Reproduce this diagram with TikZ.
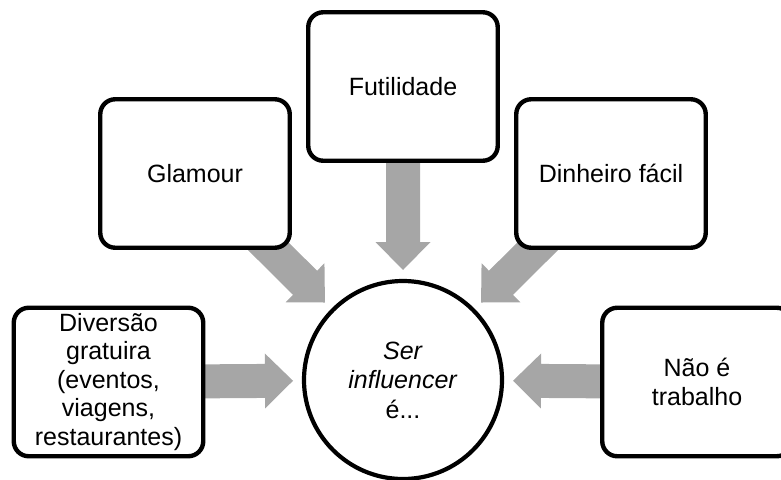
\documentclass[tikz,border=0pt]{standalone}
\usepackage{fontspec}
\setmainfont{Liberation Sans}
\usetikzlibrary{calc,backgrounds}
\definecolor{arrowgray}{RGB}{166,166,166}
\tikzset{
  box/.style={draw=black, line width=4.4pt, rounded corners=15pt, fill=white,
    minimum width=189.5pt, minimum height=148.5pt, inner sep=2pt, align=center,
    font=\fontsize{25}{28.5}\selectfont},
  hub/.style={circle, draw=black, line width=4.2pt, fill=white, minimum size=198pt,
    inner sep=0pt, align=center, font=\fontsize{25}{29.5}\selectfont},
  blockfill/.style={fill=arrowgray}
}
\newcommand\blockarrow[1]{%
  \coordinate (t#1) at ($(hub.center)!110pt!(#1.center)$);
  \coordinate (b#1) at ($(t#1)!28pt!(#1.center)$);
  \fill[blockfill] ($(#1.center)!17pt!90:(t#1)$) -- ($(b#1)!17pt!90:(t#1)$)
    -- ($(b#1)!27.5pt!90:(t#1)$) -- (t#1) -- ($(b#1)!27.5pt!-90:(t#1)$)
    -- ($(b#1)!17pt!-90:(t#1)$) -- ($(#1.center)!17pt!-90:(t#1)$) -- cycle;}
\begin{document}
\begin{tikzpicture}[x=1pt,y=-1pt]
\useasboundingbox (0,0) rectangle (781,479);
\clip (0,0) rectangle (781,479);
\node[hub] (hub) at (403,380) {\textit{Ser}\\\textit{influencer}\\é...};
\node[box] (gl) at (195,173.5) {Glamour};
\node[box] (fu) at (403,86.5) {Futilidade};
\node[box] (di) at (611,173.5) {Dinheiro fácil};
\node[box] (dv) at (108.5,382) {Diversão\\gratuira\\(eventos,\\viagens,\\restaurantes)};
\node[box] (nt) at (697,382) {Não é\\trabalho};
\begin{scope}[on background layer]
  \blockarrow{gl}
  \blockarrow{fu}
  \blockarrow{di}
  \blockarrow{dv}
  \blockarrow{nt}
\end{scope}
\end{tikzpicture}
\end{document}
